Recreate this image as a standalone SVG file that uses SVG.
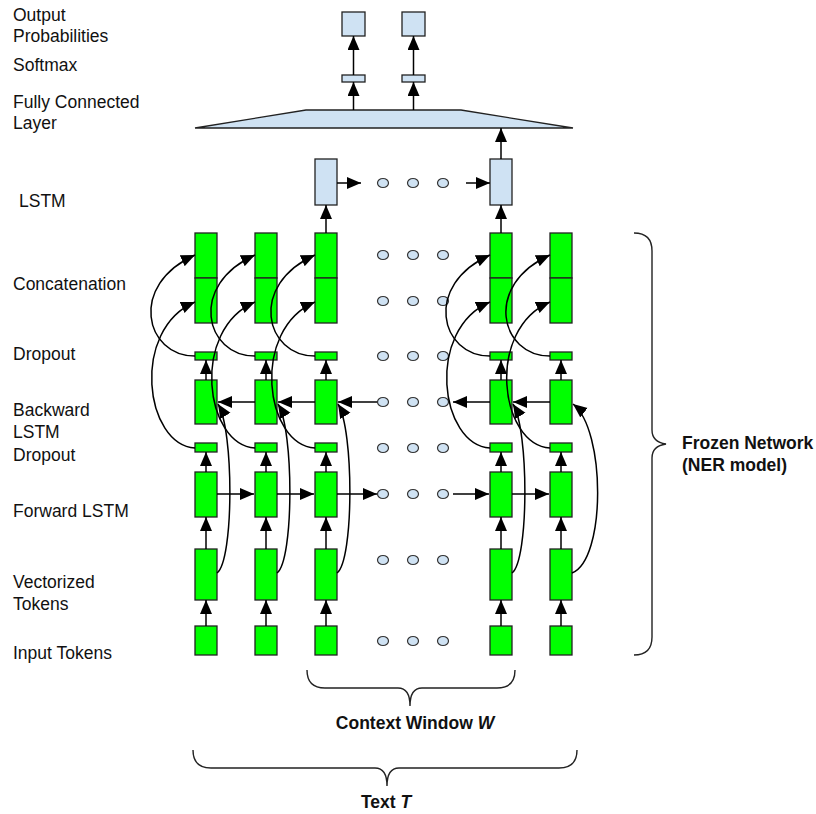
<svg xmlns="http://www.w3.org/2000/svg" width="816" height="814" viewBox="0 0 816 814">
<defs>
<marker id="ah" markerUnits="userSpaceOnUse" markerWidth="15" markerHeight="13" refX="14" refY="6" orient="auto">
<path d="M0,0 L14,6 L0,12 z" fill="#000"/>
</marker>
<style>
.g{fill:#00ff00;stroke:#222;stroke-width:1.3}
.b{fill:#cfe2f3;stroke:#222;stroke-width:1.3}
.d{fill:#cfe2f3;stroke:#333;stroke-width:1.2}
.c{fill:none;stroke:#000;stroke-width:1.5;marker-end:url(#ah)}
.br{fill:none;stroke:#222;stroke-width:1.4}
text{font-family:"Liberation Sans",Arial,Helvetica,sans-serif;font-size:17.5px;fill:#111}
.bt{font-weight:bold}
</style>
</defs>
<rect width="816" height="814" fill="#fff"/>

<g id="labels">
<text x="13" y="21">Output</text>
<text x="13" y="42">Probabilities</text>
<text x="13" y="71">Softmax</text>
<text x="13" y="108">Fully Connected</text>
<text x="13" y="129">Layer</text>
<text x="19" y="207">LSTM</text>
<text x="13" y="290">Concatenation</text>
<text x="13" y="360">Dropout</text>
<text x="13" y="416">Backward</text>
<text x="13" y="438">LSTM</text>
<text x="13" y="461">Dropout</text>
<text x="13" y="517">Forward LSTM</text>
<text x="13" y="588">Vectorized</text>
<text x="13" y="610">Tokens</text>
<text x="13" y="659">Input Tokens</text>
</g>

<g id="output">
<rect class="b" x="342" y="12" width="23" height="24"/>
<rect class="b" x="402" y="12" width="23" height="24"/>
</g>
<g id="softmax">
<rect class="b" x="342" y="75" width="23" height="7"/>
<rect class="b" x="402" y="75" width="23" height="7"/>
</g>
<g id="fc">
<polygon class="b" points="306,110 461,110 573,128 195,128"/>
</g>
<g id="lstm">
<rect class="b" x="315" y="159" width="22" height="46"/>
<rect class="b" x="490" y="159" width="22" height="46"/>
</g>

<g id="col1">
<rect class="g" x="195" y="233" width="22" height="45"/><rect class="g" x="195" y="278" width="22" height="45"/>
<rect class="g" x="195" y="352" width="22" height="8"/>
<rect class="g" x="195" y="380" width="22" height="44"/>
<rect class="g" x="195" y="443" width="22" height="9"/>
<rect class="g" x="195" y="472" width="22" height="45"/>
<rect class="g" x="195" y="549" width="22" height="51"/>
<rect class="g" x="195" y="626" width="22" height="29"/>
</g>
<g id="col2">
<rect class="g" x="255" y="233" width="22" height="45"/><rect class="g" x="255" y="278" width="22" height="45"/>
<rect class="g" x="255" y="352" width="22" height="8"/>
<rect class="g" x="255" y="380" width="22" height="44"/>
<rect class="g" x="255" y="443" width="22" height="9"/>
<rect class="g" x="255" y="472" width="22" height="45"/>
<rect class="g" x="255" y="549" width="22" height="51"/>
<rect class="g" x="255" y="626" width="22" height="29"/>
</g>
<g id="col3">
<rect class="g" x="315" y="233" width="22" height="45"/><rect class="g" x="315" y="278" width="22" height="45"/>
<rect class="g" x="315" y="352" width="22" height="8"/>
<rect class="g" x="315" y="380" width="22" height="44"/>
<rect class="g" x="315" y="443" width="22" height="9"/>
<rect class="g" x="315" y="472" width="22" height="45"/>
<rect class="g" x="315" y="549" width="22" height="51"/>
<rect class="g" x="315" y="626" width="22" height="29"/>
</g>
<g id="col4">
<rect class="g" x="490" y="233" width="22" height="45"/><rect class="g" x="490" y="278" width="22" height="45"/>
<rect class="g" x="490" y="352" width="22" height="8"/>
<rect class="g" x="490" y="380" width="22" height="44"/>
<rect class="g" x="490" y="443" width="22" height="9"/>
<rect class="g" x="490" y="472" width="22" height="45"/>
<rect class="g" x="490" y="549" width="22" height="51"/>
<rect class="g" x="490" y="626" width="22" height="29"/>
</g>
<g id="col5">
<rect class="g" x="550" y="233" width="22" height="45"/><rect class="g" x="550" y="278" width="22" height="45"/>
<rect class="g" x="550" y="352" width="22" height="8"/>
<rect class="g" x="550" y="380" width="22" height="44"/>
<rect class="g" x="550" y="443" width="22" height="9"/>
<rect class="g" x="550" y="472" width="22" height="45"/>
<rect class="g" x="550" y="549" width="22" height="51"/>
<rect class="g" x="550" y="626" width="22" height="29"/>
</g>

<g id="ellipsis">
<ellipse class="d" cx="383" cy="183" rx="5.5" ry="4.5"/><ellipse class="d" cx="413" cy="183" rx="5.5" ry="4.5"/><ellipse class="d" cx="443" cy="183" rx="5.5" ry="4.5"/>
<ellipse class="d" cx="383" cy="255" rx="5.5" ry="4.5"/><ellipse class="d" cx="413" cy="255" rx="5.5" ry="4.5"/><ellipse class="d" cx="443" cy="255" rx="5.5" ry="4.5"/>
<ellipse class="d" cx="383" cy="301" rx="5.5" ry="4.5"/><ellipse class="d" cx="413" cy="301" rx="5.5" ry="4.5"/><ellipse class="d" cx="443" cy="301" rx="5.5" ry="4.5"/>
<ellipse class="d" cx="383" cy="356" rx="5.5" ry="4.5"/><ellipse class="d" cx="413" cy="356" rx="5.5" ry="4.5"/><ellipse class="d" cx="443" cy="356" rx="5.5" ry="4.5"/>
<ellipse class="d" cx="383" cy="402" rx="5.5" ry="4.5"/><ellipse class="d" cx="413" cy="402" rx="5.5" ry="4.5"/><ellipse class="d" cx="443" cy="402" rx="5.5" ry="4.5"/>
<ellipse class="d" cx="383" cy="448" rx="5.5" ry="4.5"/><ellipse class="d" cx="413" cy="448" rx="5.5" ry="4.5"/><ellipse class="d" cx="443" cy="448" rx="5.5" ry="4.5"/>
<ellipse class="d" cx="383" cy="494" rx="5.5" ry="4.5"/><ellipse class="d" cx="413" cy="494" rx="5.5" ry="4.5"/><ellipse class="d" cx="443" cy="494" rx="5.5" ry="4.5"/>
<ellipse class="d" cx="383" cy="560" rx="5.5" ry="4.5"/><ellipse class="d" cx="413" cy="560" rx="5.5" ry="4.5"/><ellipse class="d" cx="443" cy="560" rx="5.5" ry="4.5"/>
<ellipse class="d" cx="383" cy="641" rx="5.5" ry="4.5"/><ellipse class="d" cx="413" cy="641" rx="5.5" ry="4.5"/><ellipse class="d" cx="443" cy="641" rx="5.5" ry="4.5"/>
</g>

<g id="connectors">
<path class="c" d="M353.5,75 L353.5,36"/>
<path class="c" d="M413.5,75 L413.5,36"/>
<path class="c" d="M353.5,110 L353.5,82"/>
<path class="c" d="M413.5,110 L413.5,82"/>
<path class="c" d="M501,159 L501,128"/>
<path class="c" d="M326,233 L326,205"/>
<path class="c" d="M501,233 L501,205"/>
<path class="c" d="M337,183 L361,183"/>
<path class="c" d="M466,183 L490,183"/>
<path class="c" d="M206,626 L206,600"/><path class="c" d="M206,549 L206,517"/><path class="c" d="M206,472 L206,452"/><path class="c" d="M206,380 L206,360"/>
<path class="c" d="M266,626 L266,600"/><path class="c" d="M266,549 L266,517"/><path class="c" d="M266,472 L266,452"/><path class="c" d="M266,380 L266,360"/>
<path class="c" d="M326,626 L326,600"/><path class="c" d="M326,549 L326,517"/><path class="c" d="M326,472 L326,452"/><path class="c" d="M326,380 L326,360"/>
<path class="c" d="M501,626 L501,600"/><path class="c" d="M501,549 L501,517"/><path class="c" d="M501,472 L501,452"/><path class="c" d="M501,380 L501,360"/>
<path class="c" d="M561,626 L561,600"/><path class="c" d="M561,549 L561,517"/><path class="c" d="M561,472 L561,452"/><path class="c" d="M561,380 L561,360"/>
<path class="c" d="M255,402 L218,402"/>
<path class="c" d="M315,402 L278,402"/>
<path class="c" d="M377,402 L338,402"/>
<path class="c" d="M490,402 L453,402"/>
<path class="c" d="M550,402 L513,402"/>
<path class="c" d="M217,494 L254,494"/>
<path class="c" d="M277,494 L314,494"/>
<path class="c" d="M337,494 L377,494"/>
<path class="c" d="M453,494 L489,494"/>
<path class="c" d="M512,494 L549,494"/>
<path class="c" d="M195,356 C145,356 128,285 195,255"/>
<path class="c" d="M195,448 C145,445 130,330 195,302"/>
<path class="c" d="M255,356 C205,356 188,285 255,255"/>
<path class="c" d="M255,448 C205,445 190,330 255,302"/>
<path class="c" d="M315,356 C265,356 248,285 315,255"/>
<path class="c" d="M315,448 C265,445 250,330 315,302"/>
<path class="c" d="M490,356 C440,356 423,285 490,255"/>
<path class="c" d="M490,448 C440,445 425,330 490,302"/>
<path class="c" d="M550,356 C500,356 483,285 550,255"/>
<path class="c" d="M550,448 C500,445 485,330 550,302"/>
<path class="c" d="M217,573 C234,560 234,430 218,404"/>
<path class="c" d="M277,573 C294,560 294,430 278,404"/>
<path class="c" d="M337,573 C354,560 354,430 338,404"/>
<path class="c" d="M512,573 C529,560 529,430 513,404"/>
<path class="c" d="M572,573 C606,560 606,430 573,404"/>
</g>

<g id="brace-frozen">
<path class="br" d="M634,233 Q652,233 652,251 L652,430 Q652,442 666,444 Q652,446 652,458 L652,637 Q652,655 634,655"/>
<text class="bt" x="682" y="449">Frozen Network</text>
<text class="bt" x="682" y="471">(NER model)</text>
</g>
<g id="brace-context">
<path class="br" d="M307,670 Q307,688 325,688 L398,688 Q410,688 410,706 Q410,688 422,688 L497,688 Q515,688 515,670"/>
<text class="bt" x="415" y="729" text-anchor="middle">Context Window <tspan font-style="italic">W</tspan></text>
</g>
<g id="brace-text">
<path class="br" d="M193,750 Q193,768 211,768 L375,768 Q387,768 387,786 Q387,768 399,768 L559,768 Q577,768 577,750"/>
<text class="bt" x="386" y="808" text-anchor="middle">Text <tspan font-style="italic">T</tspan></text>
</g>
</svg>
